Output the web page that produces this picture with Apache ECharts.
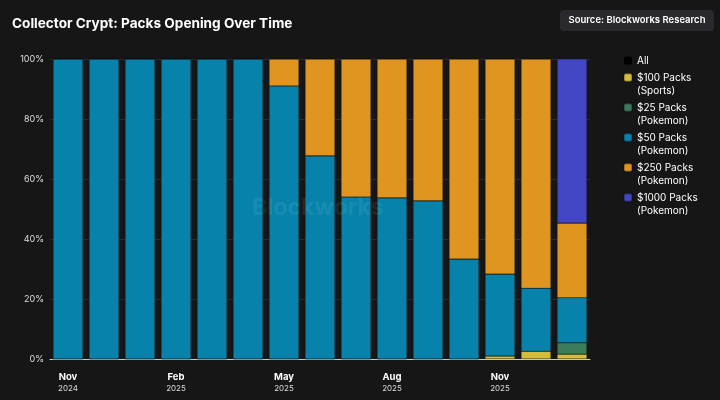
<!DOCTYPE html>
<html><head><meta charset="utf-8">
<script src="https://cdn.jsdelivr.net/npm/echarts@6/dist/echarts.min.js"></script>
<style>html,body{margin:0;padding:0;background:#161616;}#c{width:720px;height:400px;}</style>
</head><body><div id="c"></div>
<script>
const months = ['Nov 2024','Dec 2024','Jan 2025','Feb 2025','Mar 2025','Apr 2025','May 2025','Jun 2025','Jul 2025','Aug 2025','Sep 2025','Oct 2025','Nov 2025','Dec 2025','Jan 2026'];
const sports100 = [0,0,0,0,0,0,0,0,0,0,0,0,1.0,2.6,1.6];
const pokemon25 = [0,0,0,0,0,0,0,0,0,0,0,0,0,0,3.8];
const pokemon50 = [100,100,100,100,100,100,91,67.7,54,53.7,52.7,33.3,27.3,21,15];
const pokemon250 = [0,0,0,0,0,0,9,32.3,46,46.3,47.3,66.7,71.7,76.4,24.9];
const pokemon1000 = [0,0,0,0,0,0,0,0,0,0,0,0,0,0,54.7];
const legendNames = ['All','$100 Packs\n(Sports)','$25 Packs\n(Pokemon)','$50 Packs\n(Pokemon)','$250 Packs\n(Pokemon)','$1000 Packs\n(Pokemon)'];

const chart = echarts.init(document.getElementById('c'));
const font = 'Inter, "Noto Sans", sans-serif';
function bar(name, data, color){
  return {name, type:'bar', stack:'t', data, barCategoryGap:'17%',
    itemStyle:{color, borderColor:'rgba(0,0,0,0.25)', borderWidth:0.6}};
}
chart.setOption({
  backgroundColor:'#161616',
  textStyle:{fontFamily:font},
  graphic:[
    {type:'text', left:12, top:17, style:{text:'Collector Crypt: Packs Opening Over Time', fill:'#ffffff', font:'bold 13.6px '+font}},
    {type:'group', right:6, top:10, children:[
      {type:'rect', shape:{x:0,y:0,width:154,height:21,r:4}, style:{fill:'#2a2a2e'}},
      {type:'text', x:77, y:10.5, style:{text:'Source: Blockworks Research', fill:'#ffffff', font:'600 9.5px '+font, align:'center', verticalAlign:'middle'}}
    ]},
    {type:'text', left:252, top:197, z:10, style:{text:'Blockworks', fill:'rgba(255,255,255,0.07)', font:'bold 23px '+font}}
  ],
  legend:{
    orient:'vertical', left:618, top:49, itemWidth:8, itemHeight:8, itemGap:-9,
    icon:'roundRect',
    formatter:function(n){
      const p = n.split('\n');
      if (p.length === 1) return '{t|' + n + '}';
      return '{s| }\n{t|' + p[0] + '}\n{t|' + p[1] + '}';
    },
    textStyle:{color:'#ffffff', fontSize:10, fontFamily:font, lineHeight:13,
      rich:{s:{fontSize:10, lineHeight:13}, t:{color:'#ffffff', fontSize:10, fontFamily:font, lineHeight:13}}},
    data:legendNames
  },
  grid:{left:50, right:130, top:59, bottom:41},
  xAxis:{type:'category', data:months,
    axisLine:{lineStyle:{color:'#cccccc', width:1}}, axisTick:{show:false},
    axisLabel:{interval:2, margin:12, formatter:function(v){const p=v.split(' ');return '{m|'+p[0]+'}\n{y|'+p[1]+'}';},
      rich:{m:{color:'#ffffff', fontSize:9.5, fontWeight:'bold', fontFamily:font, lineHeight:13}, y:{color:'#dddddd', fontSize:8, fontFamily:font, lineHeight:10}}}
  },
  yAxis:{type:'value', min:0, max:100, interval:20,
    axisLabel:{formatter:'{value}%', color:'#dddddd', fontSize:9, margin:6},
    splitLine:{lineStyle:{color:'#2a2a2a', width:1}}, axisLine:{show:false}, axisTick:{show:false}},
  series:[
    {name:'All', type:'bar', stack:'t', data:[], itemStyle:{color:'#000000'}},
    bar(legendNames[1], sports100, '#d4bd3b'),
    bar(legendNames[2], pokemon25, '#3b7a5b'),
    bar(legendNames[3], pokemon50, '#0783ab'),
    bar(legendNames[4], pokemon250, '#df951f'),
    bar(legendNames[5], pokemon1000, '#4347c4')
  ]
});
</script></body></html>
